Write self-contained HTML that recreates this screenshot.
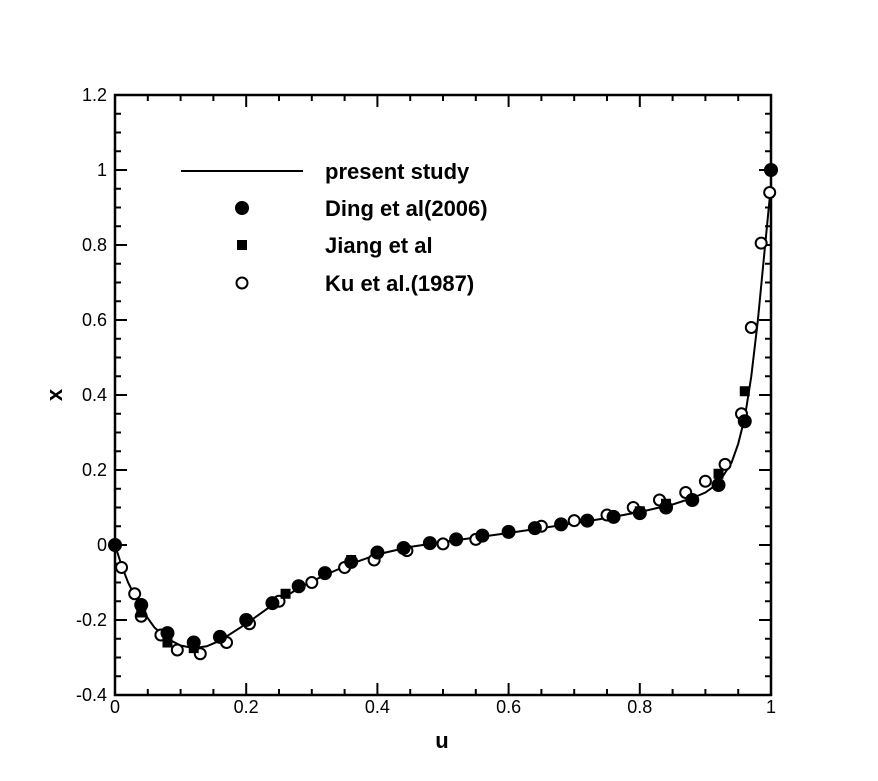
<!DOCTYPE html>
<html><head><meta charset="utf-8"><style>
body{margin:0;background:#fff;}
svg{display:block;font-family:"Liberation Sans",Arial,sans-serif;}
</style></head><body>
<svg id="chart" width="878" height="781" viewBox="0 0 878 781" xmlns="http://www.w3.org/2000/svg"></svg>
<script>
const xTicks=[0,0.2,0.4,0.6,0.8,1];
const xTickLabels=["0","0.2","0.4","0.6","0.8","1"];
const yTicks=[-0.4,-0.2,0,0.2,0.4,0.6,0.8,1,1.2];
const yTickLabels=["-0.4","-0.2","0","0.2","0.4","0.6","0.8","1","1.2"];
const lineU=[0,0.01,0.02,0.04,0.06,0.08,0.1,0.12,0.14,0.16,0.2,0.24,0.28,0.32,0.36,0.4,0.45,0.5,0.55,0.6,0.65,0.7,0.75,0.8,0.85,0.88,0.9,0.92,0.94,0.95,0.96,0.97,0.98,0.99,1];
const lineX=[0,-0.055,-0.1,-0.17,-0.22,-0.25,-0.268,-0.275,-0.27,-0.255,-0.21,-0.16,-0.115,-0.08,-0.05,-0.025,-0.005,0.008,0.02,0.032,0.045,0.058,0.072,0.088,0.108,0.125,0.14,0.165,0.22,0.27,0.34,0.45,0.6,0.78,0.96];
const dingU=[0,0.04,0.08,0.12,0.16,0.2,0.24,0.28,0.32,0.36,0.4,0.44,0.48,0.52,0.56,0.6,0.64,0.68,0.72,0.76,0.8,0.84,0.88,0.92,0.96,1];
const dingX=[0,-0.16,-0.235,-0.26,-0.245,-0.2,-0.155,-0.11,-0.075,-0.045,-0.02,-0.008,0.005,0.015,0.025,0.035,0.045,0.055,0.065,0.075,0.085,0.1,0.12,0.16,0.33,1];
const jiangU=[0.04,0.08,0.12,0.26,0.36,0.8,0.84,0.92,0.96,1];
const jiangX=[-0.18,-0.26,-0.275,-0.13,-0.04,0.09,0.11,0.19,0.41,1];
const kuU=[0.01,0.03,0.04,0.07,0.095,0.13,0.17,0.205,0.25,0.3,0.35,0.395,0.445,0.5,0.55,0.65,0.7,0.75,0.79,0.83,0.87,0.9,0.93,0.955,0.97,0.985,0.998];
const kuX=[-0.06,-0.13,-0.19,-0.24,-0.28,-0.29,-0.26,-0.21,-0.15,-0.1,-0.06,-0.04,-0.015,0.003,0.015,0.05,0.065,0.08,0.1,0.12,0.14,0.17,0.215,0.35,0.58,0.805,0.94];

const L=115,R=771,T=95,B=695;
const sx=u=>L+u*(R-L);
const sy=v=>B-(v+0.4)/1.6*(B-T);
const svg=document.getElementById('chart');
const NS="http://www.w3.org/2000/svg";
function mk(tag,attrs,parent){const e=document.createElementNS(NS,tag);for(const k in attrs)e.setAttribute(k,attrs[k]);(parent||svg).appendChild(e);return e;}

let el=mk('rect',{x:L,y:T,width:R-L,height:B-T,fill:'none',stroke:'#000','stroke-width':2.5});



const tg=mk('g',{stroke:'#000','stroke-width':2});


for(let i=0;i<=20;i++){const u=i*0.05;const len=(i%4===0)?12:6;const x=sx(u);
 mk('line',{x1:x,y1:B,x2:x,y2:B-len},tg);mk('line',{x1:x,y1:T,x2:x,y2:T+len},tg);}
for(let i=0;i<=32;i++){const v=-0.4+i*0.05;const len=(i%4===0)?12:6;const y=sy(v);
 mk('line',{x1:L,y1:y,x2:L+len,y2:y},tg);mk('line',{x1:R,y1:y,x2:R-len,y2:y},tg);}

xTicks.forEach((t,i)=>{const e=mk('text',{x:sx(t),y:B+18,'text-anchor':'middle','font-size':18});e.textContent=xTickLabels[i];
 
 });
yTicks.forEach((t,i)=>{const e=mk('text',{x:L-8,y:sy(t)+6,'text-anchor':'end','font-size':18});e.textContent=yTickLabels[i];
 
 });

el=mk('text',{x:442,y:748,'text-anchor':'middle','font-size':22,'font-weight':'bold'});el.textContent='u';


el=mk('text',{x:62,y:395,'text-anchor':'middle','font-size':22,'font-weight':'bold',transform:'rotate(-90 62 395)'});el.textContent='x';



let d=lineU.map((u,i)=>(i?'L':'M')+sx(u).toFixed(1)+','+sy(lineX[i]).toFixed(1)).join(' ');
el=mk('path',{d:d,fill:'none',stroke:'#000','stroke-width':2});



function circle(x,y,filled,g){return mk('circle',{cx:x,cy:y,r:filled?6:5.5,fill:filled?'#000':'#fff',stroke:'#000','stroke-width':2},g);}
function square(x,y,g){return mk('rect',{x:x-5,y:y-5,width:10,height:10,fill:'#000'},g);}

const gk=mk('g',{});


kuU.forEach((u,i)=>{const c=circle(sx(u),sy(kuX[i]),false,gk);
 
 });
const gj=mk('g',{});


jiangU.forEach((u,i)=>{const c=square(sx(u),sy(jiangX[i]),gj);
 
 });
const gd=mk('g',{});


dingU.forEach((u,i)=>{const c=circle(sx(u),sy(dingX[i]),true,gd);
 
 });

const lg=mk('g',{});


mk('line',{x1:181,y1:171,x2:303,y2:171,stroke:'#000','stroke-width':2},lg);
circle(242,208,true,lg);
square(242,245,lg);
circle(242,283,false,lg);
const names=['present study','Ding et al(2006)','Jiang et al','Ku et al.(1987)'];
const ys=[171,208,245,283];
names.forEach((n,i)=>{const t=mk('text',{x:325,y:ys[i]+8,'font-size':22,'font-weight':'bold'},lg);t.textContent=n;
 
 });
</script>
</body></html>
